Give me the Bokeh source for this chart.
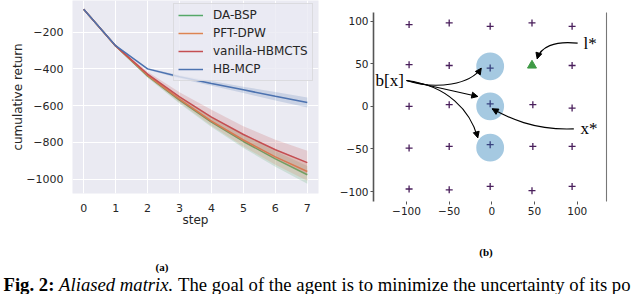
import math
from bokeh.plotting import figure
from bokeh.layouts import column, row
from bokeh.models import (Range1d, FixedTicker, Legend, LegendItem, LinearAxis,
                          Arrow, NormalHead)
from bokeh.core.properties import value
from bokeh.embed import file_html
from bokeh.resources import INLINE

# ---------------- panel (a) data ----------------
steps = [0, 1, 2, 3, 4, 5, 6, 7]
series_names = ["DA-BSP", "PFT-DPW", "vanilla-HBMCTS", "HB-MCP"]
series_colors = ["#55A868", "#DD8452", "#C44E52", "#4C72B0"]

da_bsp     = [-76, -275, -438, -570, -690, -795, -890, -976]
da_bsp_lo  = [-76, -279, -448, -588, -716, -830, -933, -1025]
da_bsp_hi  = [-76, -271, -428, -552, -664, -760, -847, -928]
pft_dpw    = [-76, -275, -435, -565, -684, -787, -879, -958]
pft_dpw_lo = [-76, -279, -445, -583, -710, -822, -922, -1008]
pft_dpw_hi = [-76, -271, -425, -547, -658, -752, -836, -908]
vanilla    = [-76, -275, -428, -552, -662, -757, -840, -910]
vanilla_lo = [-76, -280, -441, -575, -693, -797, -888, -972]
vanilla_hi = [-76, -270, -415, -527, -622, -712, -786, -845]
hb_mcp     = [-76, -274, -400, -443, -479, -514, -549, -583]
hb_mcp_lo  = [-76, -277, -405, -452, -492, -531, -572, -610]
hb_mcp_hi  = [-76, -271, -395, -434, -466, -497, -526, -556]

y_ticks_a = [-1000, -800, -600, -400, -200]
x_ticks_a = [0, 1, 2, 3, 4, 5, 6, 7]

# ---------------- panel (b) data ----------------
grid_x = [-97, -50, -2, 47, 94,
          -97, -50, -2, 94,
          -97, -50, -2, 48, 94,
          -97, -50, -2, 48, 94,
          -97, -50, -2, 47, 94]
grid_y = [96, 98, 94, 98, 94,
          49, 48, 45, 48,
          0, 2, 3, 2, -2,
          -49, -47, -45, -47, -47,
          -97, -98, -94, -99, -94]
landmark_x = [47]
landmark_y = [48]
belief_x = [-2, -2, -2]
belief_y = [47, 0, -48.5]
belief_r = 16.3
ticks_b = [-100, -50, 0, 50, 100]

note_text = ["b[x]", "x*", "l*"]
note_x = [-136.3, 103.9, 107.4]
note_y = [30.4, -26.4, 74.2]

# curved annotation arrows (start, control 1, control 2, end)
arr_x0 = [-100, -100, -100, 96.0, 100.5]
arr_y0 = [30.4, 30.4, 30.4, -26.4, 74.2]
arr_cx0 = [-64, -72.2, -52.3, 49.2, 72.6]
arr_cy0 = [18.6, 24.1, 24.5, -28.4, 77.3]
arr_cx1 = [-25, -44.3, -25, 18.0, 57.0]
arr_cy1 = [26.5, 17.9, -4.9, -12.7, 69.5]
arr_x1 = [-12.5, -16.5, -16.5, 0.4, 53.1]
arr_y1 = [44.8, 11.6, -36.9, -2.9, 55.8]

# ---------------- caption ----------------
sub_a = "(a)"
sub_b = "(b)"
cap_bold = "Fig. 2:"
cap_italic = "Aliased matrix."
cap_rest = "The goal of the agent is to minimize the uncertainty of its po"

SANS = "DejaVu Sans"
SERIF = "Liberation Serif"
TXT = "#262626"


def minus(v):
    return ("\u2212" + str(-v)) if v < 0 else str(v)


# ================= panel (a) =================
p1 = figure(width=330, height=232, x_range=Range1d(-0.35, 7.35),
            y_range=Range1d(-1078, -28), output_backend="svg",
            toolbar_location=None, min_border_left=72, min_border_right=12,
            min_border_top=0, min_border_bottom=39)
p1.frame_align = False
p1.background_fill_color = "#EAEAF2"
p1.border_fill_color = "white"
p1.outline_line_color = None
p1.grid.grid_line_color = "white"
p1.grid.grid_line_width = 1
p1.xaxis.ticker = FixedTicker(ticks=x_ticks_a)
p1.yaxis.ticker = FixedTicker(ticks=y_ticks_a)
p1.yaxis.major_label_overrides = {t: minus(t) for t in y_ticks_a}
for ax in (p1.xaxis, p1.yaxis):
    ax.axis_line_color = None
    ax.major_tick_line_color = None
    ax.minor_tick_line_color = None
    ax.major_tick_out = 0
    ax.major_tick_in = 0
    ax.minor_tick_out = 0
    ax.minor_tick_in = 0
    ax.major_label_text_font = SANS
    ax.major_label_text_font_size = "11px"
    ax.major_label_text_color = TXT
    ax.axis_label_text_font = SANS
    ax.axis_label_text_font_size = "12px"
    ax.axis_label_text_font_style = "normal"
    ax.axis_label_text_color = TXT
p1.xaxis.axis_label = "step"
p1.yaxis.axis_label = "cumulative return"
p1.xaxis.major_label_standoff = 10
p1.xaxis.axis_label_standoff = -2
p1.yaxis.major_label_standoff = 9
p1.yaxis.axis_label_standoff = -2

means = [da_bsp, pft_dpw, vanilla, hb_mcp]
los = [da_bsp_lo, pft_dpw_lo, vanilla_lo, hb_mcp_lo]
his = [da_bsp_hi, pft_dpw_hi, vanilla_hi, hb_mcp_hi]
items = []
for name, col, m, lo, hi in zip(series_names, series_colors, means, los, his):
    p1.varea(x=steps, y1=lo, y2=hi, fill_color=col, fill_alpha=0.2)
    r = p1.line(x=steps, y=m, line_color=col, line_width=1.5)
    items.append(LegendItem(label=name, renderers=[r]))

legend = Legend(items=items, location=(101, 112), margin=0, padding=4,
                spacing=4, glyph_width=25, glyph_height=14, label_height=14,
                label_standoff=10, label_text_font=SANS,
                label_text_font_size="12px", label_text_color=TXT,
                background_fill_color="#EAEAF2", background_fill_alpha=0.8,
                border_line_color="#cccccc", border_line_width=1)
p1.add_layout(legend)

# ================= panel (b) =================
p2 = figure(width=302, height=232, x_range=Range1d(-138.7, 134.3),
            y_range=Range1d(-111.7, 110.2), output_backend="svg",
            toolbar_location=None, min_border_left=43, min_border_right=26,
            min_border_top=12, min_border_bottom=31)
p2.frame_align = False
p2.grid.visible = False
p2.outline_line_color = None
p2.background_fill_color = "white"
for ax in (p2.xaxis, p2.yaxis):
    ax.ticker = FixedTicker(ticks=ticks_b)
    ax.major_label_overrides = {t: minus(t) for t in ticks_b}
    ax.major_label_text_font = SANS
    ax.major_label_text_font_size = "10.5px"
    ax.major_label_text_color = "#222222"
    ax.major_tick_line_color = "#555555"
    ax.major_tick_in = 0
    ax.major_tick_out = 3
    ax.minor_tick_line_color = None
    ax.minor_tick_in = 0
    ax.minor_tick_out = 0
    ax.major_label_standoff = 2
p2.xaxis.axis_line_color = None
p2.yaxis.axis_line_color = "#555555"
p2.yaxis.axis_line_width = 1.6
right_ax = LinearAxis(ticker=FixedTicker(ticks=[]), axis_line_color="#777777",
                      axis_line_width=1.1, major_label_text_font_size="0px",
                      major_tick_line_color=None, minor_tick_line_color=None,
                      major_tick_in=0, major_tick_out=0, minor_tick_in=0,
                      minor_tick_out=0, major_label_standoff=0)
p2.add_layout(right_ax, "right")

p2.scatter(x=grid_x, y=grid_y, marker="cross", size=7, line_color="#4a1f5c",
           line_width=1.3)
p2.scatter(x=landmark_x, y=landmark_y, marker="triangle", size=9,
           fill_color="#3f9a45", line_color="#3f9a45")
p2.circle(x=belief_x, y=belief_y, radius=belief_r, fill_color="#1f77b4",
          fill_alpha=0.4, line_color=None)

p2.bezier(x0=arr_x0, y0=arr_y0, x1=arr_x1, y1=arr_y1, cx0=arr_cx0,
          cy0=arr_cy0, cx1=arr_cx1, cy1=arr_cy1, line_color="black",
          line_width=1.1)
for xe, ye, xc, yc in zip(arr_x1, arr_y1, arr_cx1, arr_cy1):
    dx, dy = xe - xc, ye - yc
    n = math.hypot(dx, dy)
    dx, dy = dx / n, dy / n
    p2.add_layout(Arrow(x_start=xe - 2 * dx, y_start=ye - 2 * dy, x_end=xe,
                        y_end=ye, line_color="black", line_width=1.1,
                        end=NormalHead(size=6, fill_color="black",
                                       line_color="black", line_width=1)))

p2.text(x=note_x, y=note_y, text=note_text, text_font=value(SERIF),
        text_font_size="17px", text_align="left", text_baseline="middle",
        text_color="black")

# ================= caption strip =================
p3 = figure(width=632, height=62, x_range=Range1d(0, 632),
            y_range=Range1d(62, 0), output_backend="svg",
            toolbar_location=None, min_border=0, x_axis_location=None,
            y_axis_location=None)
p3.frame_align = False
p3.grid.visible = False
p3.outline_line_color = None
p3.text(x=[161.5, 485.5], y=[34, 19], text=[sub_a, sub_b],
        text_font=value(SERIF), text_font_style="bold", text_font_size="11px",
        text_align="center", text_baseline="middle", text_color="black")
CAP = 18.7
CAP_Y = 52
cap_x = [3, 3 + 2.972 * CAP, 3 + 2.972 * CAP + 6.361 * CAP]
p3.text(x=[cap_x[0]], y=[CAP_Y], text=[cap_bold], text_font=value(SERIF),
        text_font_style="bold", text_font_size=f"{CAP}px",
        text_baseline="alphabetic", text_color="black")
p3.text(x=[cap_x[1]], y=[CAP_Y], text=[cap_italic], text_font=value(SERIF),
        text_font_style="italic", text_font_size=f"{CAP}px",
        text_baseline="alphabetic", text_color="black")
p3.text(x=[cap_x[2]], y=[CAP_Y], text=[cap_rest], text_font=value(SERIF),
        text_font_size=f"{CAP}px", text_baseline="alphabetic",
        text_color="black")

layout = column(row(p1, p2), p3)
open("out.html", "w").write(file_html(layout, INLINE))
